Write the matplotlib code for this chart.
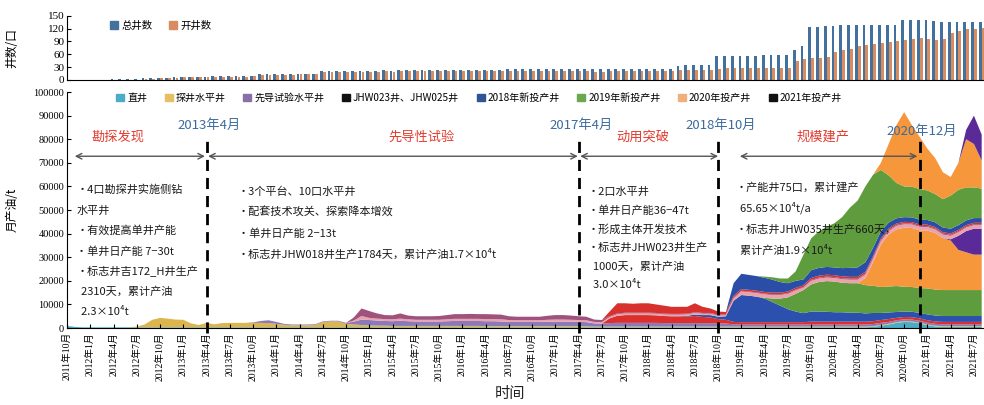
import numpy as np
import pandas as pd
import matplotlib
matplotlib.use('Agg')
import matplotlib.pyplot as plt
from matplotlib.patches import Patch

plt.rcParams['font.family'] = ['Noto Sans CJK SC', 'DejaVu Sans']
plt.rcParams['axes.unicode_minus'] = False
SERIF = ['Liberation Serif', 'Noto Sans CJK SC']

# 月度序列：2011年10月 - 2021年8月
months = pd.date_range('2011-10-01', '2021-08-01', freq='MS')

# 井数（口）
total_wells = [
    1, 1, 1,
    1, 1, 1, 2, 2, 2, 2, 4, 4, 5, 5, 6,
    8, 8, 8, 8, 9, 9, 9, 9, 10, 10, 13, 13,
    13, 14, 14, 14, 14, 14, 21, 21, 22, 22, 22, 22,
    22, 22, 23, 22, 23, 23, 23, 23, 23, 23, 23, 23,
    23, 23, 23, 23, 23, 23, 25, 25, 25, 25, 25, 25,
    25, 25, 25, 25, 25, 25, 25, 25, 25, 25, 25, 25,
    25, 25, 25, 25, 33, 35, 35, 35, 35, 57, 57, 57,
    57, 57, 57, 58, 58, 58, 58, 70, 80, 124, 124, 126,
    126, 128, 128, 128, 128, 128, 128, 128, 128, 140, 140, 140,
    140, 138, 136, 136, 136, 136, 136, 136,
]
open_wells = [
    1, 1, 1,
    1, 1, 1, 1, 1, 1, 1, 3, 3, 4, 4, 5,
    6, 7, 7, 7, 7, 8, 8, 8, 8, 9, 11, 12,
    12, 12, 12, 13, 13, 13, 18, 18, 19, 19, 19, 19,
    19, 19, 20, 19, 20, 20, 20, 20, 20, 20, 20, 20,
    20, 20, 20, 20, 20, 20, 20, 21, 21, 21, 21, 21,
    21, 21, 21, 21, 20, 19, 19, 20, 20, 20, 20, 20,
    20, 20, 20, 20, 23, 24, 24, 24, 24, 26, 28, 28,
    28, 28, 28, 28, 28, 28, 28, 45, 50, 51, 51, 54,
    66, 70, 72, 80, 82, 84, 86, 88, 90, 94, 96, 97,
    95, 94, 96, 110, 114, 118, 120, 122,
]

# 月产油（t），按堆叠顺序
vertical = [900, 500] + [300] * 102 + [500, 1000, 1500, 2200, 2600, 2500, 2000,
                                       1200, 700, 500, 500, 500, 500, 500, 500]
explore_h = ([0] * 8 + [100, 300, 1200, 3200, 4000, 3700, 3300]
             + [3200, 1700, 1000, 1900, 1300, 1800, 1900, 1900, 1900, 1900, 1900, 1800]
             + [1500, 1100, 900, 900, 900, 1000, 2200, 2500, 2500, 1500, 1200, 1000]
             + [800, 700, 700, 600, 600, 600, 600, 600, 600, 600, 600, 600]
             + [600, 600, 600, 500, 500, 500, 500, 500, 500, 500, 500, 500]
             + [500, 500, 500, 500, 400, 300, 300, 300, 300, 300, 300, 300]
             + [300] * 44)
pilot_low = ([0] * 24 + [200, 800, 1200]
             + [800, 400, 300, 300, 300, 300, 300, 300, 300, 400, 1200, 2300]
             + [2300, 2200, 2000, 2000, 2200, 2000, 1900, 1900, 1900, 1900, 2000, 2100]
             + [2100, 2100, 2100, 2100, 2100, 2000, 1800, 1800, 1800, 1800, 1800, 1900]
             + [1900, 1900, 1900, 1800, 1800, 1400, 1300, 1500, 1600, 1600, 1600, 1600]
             + [1600, 1600, 1500, 1500, 1500, 1500, 1500, 1500, 1500, 1400, 1300, 1000]
             + [900] * 19 + [800] * 13)
jhw_low = ([0] * 70 + [2000, 3000, 3300, 3300, 3300]
           + [3300, 3200, 3000, 2900, 2900, 2800, 3000, 2600, 2400, 1800, 1600, 1000]
           + [1000] * 9 + [1200] * 11 + [1000] * 12)
w2018_low = ([0] * 80 + [300, 600, 800, 1000, 1000, 1500, 9000]
             + [11500, 11200, 10800, 10000, 8500, 7000, 5500, 4500, 3800]
             + [4300, 4300, 4200, 4000, 4000, 3800, 3800, 3500, 3500, 3000, 2800, 2500,
                2300, 2300, 2300, 2500, 2500, 2500, 2500, 2500, 2500, 2500, 2500])
w2019_low = ([0] * 90 + [300, 1500, 3000, 5000, 7500, 9800]
             + [11500, 12500, 13000, 13000, 12500, 12500, 12500, 12000, 11500, 11000, 11000,
                11000, 10500, 10500, 10500, 11000, 11000, 11000, 11000, 11000, 11000, 11000,
                11000])
w2020_low = ([0] * 103 + [3000, 10000, 18000, 22000, 24000, 25000, 25000, 24500,
                          24500, 24000, 22000, 21000, 17000, 16000, 15000, 15000])
w2021_low = [0] * 114 + [500, 6000, 9000, 11000, 11000]
pilot_band = ([0] * 37 + [500, 1500]
              + [900, 800, 800, 800, 900, 800, 700, 700, 700, 700, 800, 900]
              + [900, 900, 900, 900, 900, 900, 800, 700, 700, 700, 700, 800]
              + [900, 900, 800, 800, 800, 600, 600, 600, 700, 700, 700, 700]
              + [700, 700, 700, 700, 700, 600, 700, 600, 600, 500, 500, 1000]
              + [1500] * 8 + [1000] + [1500] * 23)
pilot_up = ([0] * 37 + [1300, 3200]
            + [2900, 2200, 1700, 1700, 2200, 1600, 1500, 1500, 1500, 1600, 1800, 2000]
            + [2000, 2100, 2000, 2100, 2000, 2000, 1600, 1500, 1500, 1500, 1500, 1700]
            + [1900, 1900, 1800, 1600, 1500, 1000, 900]
            + [300] * 26 + [400] * 23)
jhw_up = ([0] * 70 + [2000, 4300, 4000, 3800, 4000]
          + [4000, 3600, 3400, 3000, 3000, 2900, 3800, 2600, 1900, 1400, 1000, 700]
          + [700] * 9 + [800] * 9 + [700, 700] + [600] * 12)
w2018_up = ([0] * 86 + [5400]
            + [6500, 6300, 6200, 6000, 5500, 4500, 3500, 3000, 2500]
            + [3300, 3300, 3300, 3300, 3500, 3800, 4000, 4000, 3500]
            + [3000, 2500, 2200, 2000, 2000, 2000] + [2000] * 8)
w2019_up = ([0] * 90 + [500, 1000, 1500, 2000, 4000, 10400]
            + [13500, 15500, 17000, 18700, 21600, 25500, 28300, 32100, 30900, 26000,
               20000, 15000, 13000, 13000, 13000, 12500, 12000, 12000, 14000, 15000,
               14000, 13000, 12500])
w2020_up = ([0] * 105 + [3000, 13300, 24500, 31500, 26100, 22100, 17700, 15200, 11400,
                         7900, 11400, 20400, 18400, 11900])
w2021_up = [0] * 116 + [4000, 12000, 11000]

layers = [vertical, explore_h, pilot_low, jhw_low, w2018_low, w2019_low, w2020_low,
          w2021_low, pilot_band, pilot_up, jhw_up, w2018_up, w2019_up, w2020_up, w2021_up]
layer_colors = ['#4bacc6', '#dcb64c', '#8d78b8', '#dc2f2c', '#2c50ad', '#5e9c3e',
                '#f5973a', '#5a2b98', '#eaa3ad', '#a0527e', '#d8302d', '#2a4ea8',
                '#5e9c3e', '#f5973a', '#5a2b98']

legend_names = ['直井', '探井水平井', '先导试验水平井', 'JHW023井、JHW025井',
                '2018年新投产井', '2019年新投产井', '2020年投产井', '2021年投产井']
legend_colors = ['#4bacc6', '#e6bf62', '#8a6ea8', '#111111', '#2f5597', '#6aa84f',
                 '#f0b07c', '#111111']

dividers = ['2013-04-01', '2017-04-01', '2018-10-01', '2020-12-01']
divider_names = ['2013年4月', '2017年4月', '2018年10月', '2020年12月']
phase_names = ['勘探发现', '先导性试验', '动用突破', '规模建产']

notes = [
    ['•4口勘探井实施侧钻', '水平井', '•有效提高单井产能', '•单井日产能 7−30t',
     '•标志井吉172_H井生产', '  2310天，累计产油', '  2.3×10⁴t'],
    ['•3个平台、10口水平井', '•配套技术攻关、探索降本增效', '•单井日产能 2−13t',
     '•标志井JHW018井生产1784天，累计产油1.7×10⁴t'],
    ['•2口水平井', '•单井日产能36−47t', '•形成主体开发技术', '•标志井JHW023井生产',
     '  1000天，累计产油', '  3.0×10⁴t'],
    ['•产能井75口，累计建产', '  65.65×10⁴t/a', '•标志井JHW035井生产660天，',
     '  累计产油1.9×10⁴t'],
]

x = np.arange(len(months))
xmax = 118.3

fig = plt.figure(figsize=(9.84, 4.05), dpi=100)

# 上图：井数
ax1 = fig.add_axes([0.0681, 0.8025, 0.9319, 0.1588])
ax1.bar(x - 0.19, total_wells, width=0.36, color='#41719c', linewidth=0)
ax1.bar(x + 0.19, open_wells, width=0.36, color='#d98c5f', linewidth=0)
ax1.set_xlim(0, xmax)
ax1.set_ylim(0, 150)
ax1.set_yticks(range(0, 151, 30))
ax1.set_xticks([])
for lab in ax1.get_yticklabels():
    lab.set_family(SERIF)
ax1.tick_params(axis='y', direction='in', length=3, labelsize=8, pad=2)
ax1.spines['top'].set_visible(False)
ax1.spines['right'].set_visible(False)
ax1.set_ylabel('井数/口', fontsize=8.5)
ax1.yaxis.set_label_coords(-0.053, 0.5)
fig.legend([Patch(color='#41719c'), Patch(color='#d98c5f')], ['总井数', '开井数'],
           loc='upper left', bbox_to_anchor=(0.102, 0.972), ncol=2, frameon=False,
           fontsize=7.5, handlelength=0.8, handleheight=0.8, handletextpad=0.3,
           columnspacing=1.6)

# 下图：月产油堆积面积
ax2 = fig.add_axes([0.0681, 0.19, 0.9319, 0.5827])
ax2.stackplot(x, *layers, colors=layer_colors, linewidth=0)
ax2.set_xlim(0, xmax)
ax2.set_ylim(0, 100000)
ax2.set_yticks(range(0, 100001, 10000))
qx = x[::3]
ax2.set_xticks(qx)
ax2.set_xticklabels([f'{months[i].year}年{months[i].month}月' for i in qx],
                    rotation=90, fontsize=7, family=SERIF)
for lab in ax2.get_yticklabels():
    lab.set_family(SERIF)
ax2.tick_params(axis='y', direction='in', length=3, labelsize=7.5, pad=2)
ax2.tick_params(axis='x', direction='in', length=3, pad=3)
ax2.spines['top'].set_visible(False)
ax2.spines['right'].set_visible(False)
ax2.set_ylabel('月产油/t', fontsize=8.5)
ax2.yaxis.set_label_coords(-0.053, 0.5)

fig.legend([Patch(color=c) for c in legend_colors], legend_names,
           loc='center', bbox_to_anchor=(0.487, 1 - 98 / 405), ncol=8, frameon=False,
           fontsize=7.2, handlelength=0.8, handleheight=0.8, handletextpad=0.3,
           columnspacing=1.75)

# 阶段分界线与标注
div_x = [months.get_loc(pd.Timestamp(d)) for d in dividers]
div_top = [80500, 80500, 80000, 81800]
div_text_y = [86000, 86000, 86000, 83200]
for xi, top, ty, name in zip(div_x, div_top, div_text_y, divider_names):
    ax2.plot([xi, xi], [-2000, top], color='black', lw=2, ls=(0, (4, 2.5)),
             clip_on=False, zorder=5)
    ax2.text(xi + 0.3, ty, name, ha='center', va='center', fontsize=9.5,
             color='#3c6b9e', zorder=6)

phase_x = [6.6, 45.8, 74.3, 97.5]
for px, name in zip(phase_x, phase_names):
    ax2.text(px, 81000, name, ha='center', va='center', fontsize=9.5, color='#e23b2e')

arrow_spans = [(1.0, 17.8), (18.2, 65.9), (66.2, 84.0), (86.8, 109.7)]
for a, b in arrow_spans:
    ax2.annotate('', xy=(b, 72800), xytext=(a, 72800),
                 arrowprops=dict(arrowstyle='<->', color='#555555', lw=1.0,
                                 shrinkA=0, shrinkB=0))

note_pos = [(1.2, 58500, 8640), (22.0, 57600, 8700), (67.2, 57600, 7900), (86.2, 59700, 8900)]
for (nx, ny, step), lines in zip(note_pos, notes):
    for k, line in enumerate(lines):
        ax2.text(nx, ny - k * step, line, ha='left', va='center', fontsize=8,
                 color='#1a1a1a', zorder=6)

fig.text(0.518, 0.028, '时间', ha='center', va='center', fontsize=11, color='#222222')

fig.savefig('out.png', dpi=100, facecolor='white')
